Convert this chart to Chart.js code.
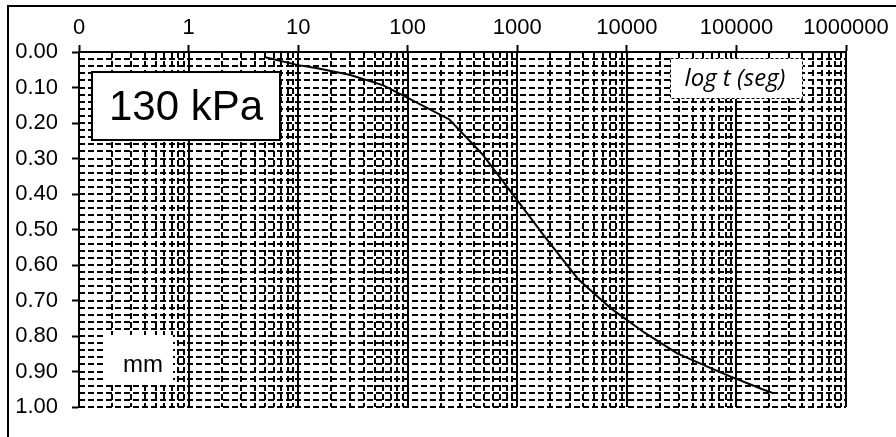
<!DOCTYPE html>
<html>
<head>
<meta charset="utf-8">
<script src="https://cdn.jsdelivr.net/npm/chart.js@4.4.1/dist/chart.umd.min.js"></script>
<style>
  html, body { margin: 0; padding: 0; background: #fff; }
  #wrap { position: relative; width: 896px; height: 437px; }
  canvas { display: block; }
</style>
</head>
<body>
<div id="wrap"><canvas id="c" width="896" height="437"></canvas></div>
<script>
// Consolidation reading: elapsed time (s) and dial settlement (mm)
const timeSec = [5, 10, 15, 30, 60, 120, 240, 480, 900, 1800, 3600, 7200, 14400, 28800, 57600, 86400, 172800, 216000];
const settlementMm = [0.015, 0.037, 0.046, 0.065, 0.094, 0.142, 0.190, 0.288, 0.399, 0.522, 0.640, 0.723, 0.790, 0.849, 0.890, 0.913, 0.950, 0.961];

// Axis decades (log time) and their printed labels
const xDecades = [0.1, 1, 10, 100, 1000, 10000, 100000, 1000000];
const xTickLabels = ['0', '1', '10', '100', '1000', '10000', '100000', '1000000'];

// Settlement axis labels (mm)
const yTickValues = [0, 0.1, 0.2, 0.3, 0.4, 0.5, 0.6, 0.7, 0.8, 0.9, 1.0];
const yTickLabels = ['0.00', '0.10', '0.20', '0.30', '0.40', '0.50', '0.60', '0.70', '0.80', '0.90', '1.00'];

const AXIS_FONT = { family: '"Liberation Sans", Arial, sans-serif', size: 22 };

// Dense dashed graph-paper grid, drawn through the chart's own scales
const graphPaper = {
  id: 'graphPaper',
  beforeDatasetsDraw(chart) {
    const { ctx, chartArea: a, scales: { x, y } } = chart;
    ctx.save();
    ctx.strokeStyle = '#000';
    ctx.lineWidth = 2;
    ctx.setLineDash([6, 3]);
    // horizontal minor lines every 0.02 mm
    for (let i = 0; i <= 50; i++) {
      const py = Math.round(y.getPixelForValue(i * 0.02));
      ctx.beginPath();
      ctx.moveTo(a.left, py);
      ctx.lineTo(a.right, py);
      ctx.stroke();
    }
    // vertical minor lines at 2..9 of each decade
    for (let d = 0; d < xDecades.length - 1; d++) {
      for (let k = 2; k <= 9; k++) {
        const px = Math.round(x.getPixelForValue(xDecades[d] * k));
        ctx.beginPath();
        ctx.moveTo(px, a.top);
        ctx.lineTo(px, a.bottom);
        ctx.stroke();
      }
    }
    // solid decade lines
    ctx.setLineDash([]);
    xDecades.forEach(v => {
      const px = Math.round(x.getPixelForValue(v));
      ctx.beginPath();
      ctx.moveTo(px, a.top);
      ctx.lineTo(px, a.bottom);
      ctx.stroke();
    });
    ctx.beginPath();
    ctx.moveTo(a.left - 1, a.top);
    ctx.lineTo(a.right + 1, a.top);
    ctx.stroke();

    // label boxes
    // load step
    ctx.fillStyle = '#fff';
    ctx.fillRect(92, 72, 188, 68);
    ctx.lineWidth = 2;
    ctx.strokeRect(92, 72, 188, 68);
    ctx.fillStyle = '#000';
    ctx.textAlign = 'center';
    ctx.textBaseline = 'middle';
    ctx.font = '42px "Liberation Sans", Arial, sans-serif';
    ctx.fillText('130 kPa', 186, 108);

    // time axis title
    ctx.fillStyle = '#fff';
    ctx.fillRect(670, 58, 133, 41);
    ctx.lineWidth = 1;
    ctx.setLineDash([3, 2]);
    ctx.strokeRect(670.5, 58.5, 132, 40);
    ctx.setLineDash([]);
    ctx.fillStyle = '#000';
    ctx.font = 'italic 24px "Open Sans", "Noto Sans", sans-serif';
    ctx.fillText('log t (seg)', 735, 79);

    // settlement unit
    ctx.fillStyle = '#fff';
    ctx.fillRect(103, 335, 70, 48);
    ctx.fillStyle = '#000';
    ctx.font = '24px "Liberation Sans", Arial, sans-serif';
    ctx.fillText('mm', 143, 365);
    ctx.restore();
  },
  afterDraw(chart) {
    // outer frame
    const { ctx } = chart;
    ctx.save();
    ctx.strokeStyle = '#000';
    ctx.lineWidth = 2;
    ctx.beginPath();
    ctx.moveTo(8, 437);
    ctx.lineTo(8, 6);
    ctx.lineTo(896, 6);
    ctx.stroke();
    ctx.restore();
  }
};

new Chart(document.getElementById('c'), {
  type: 'line',
  data: {
    datasets: [{
      data: timeSec.map((t, i) => ({ x: t, y: settlementMm[i] })),
      borderColor: '#000',
      borderWidth: 2,
      pointRadius: 0,
      tension: 0,
      fill: false
    }]
  },
  options: {
    responsive: false,
    animation: false,
    devicePixelRatio: 1,
    layout: { padding: { left: 0, top: 0, right: 50, bottom: 30 } },
    plugins: { legend: { display: false }, tooltip: { enabled: false } },
    scales: {
      x: {
        type: 'logarithmic',
        position: 'top',
        min: xDecades[0],
        max: xDecades[xDecades.length - 1],
        afterBuildTicks: s => { s.ticks = xDecades.map(v => ({ value: v, major: true })); },
        afterFit: s => { s.height = 52; },
        ticks: {
          autoSkip: false,
          maxRotation: 0,
          minRotation: 0,
          padding: 4,
          color: '#000',
          font: AXIS_FONT,
          callback: v => {
            const i = xDecades.findIndex(d => Math.abs(Math.log10(d) - Math.log10(v)) < 1e-6);
            return i >= 0 ? xTickLabels[i] : '';
          }
        },
        grid: { drawOnChartArea: false, drawTicks: true, tickLength: 7, tickWidth: 2, tickColor: '#000' },
        border: { display: true, color: '#000', width: 2 }
      },
      y: {
        type: 'linear',
        reverse: true,
        min: 0,
        max: 1,
        afterBuildTicks: s => { s.ticks = yTickValues.map(v => ({ value: v })); },
        afterFit: s => { s.width = 79; },
        ticks: {
          autoSkip: false,
          padding: 14,
          color: '#000',
          font: AXIS_FONT,
          callback: (v, i) => yTickLabels[i]
        },
        grid: { drawOnChartArea: false, drawTicks: true, tickLength: 7, tickWidth: 2, tickColor: '#000' },
        border: { display: true, color: '#000', width: 2 }
      }
    }
  },
  plugins: [graphPaper]
});
</script>
</body>
</html>
